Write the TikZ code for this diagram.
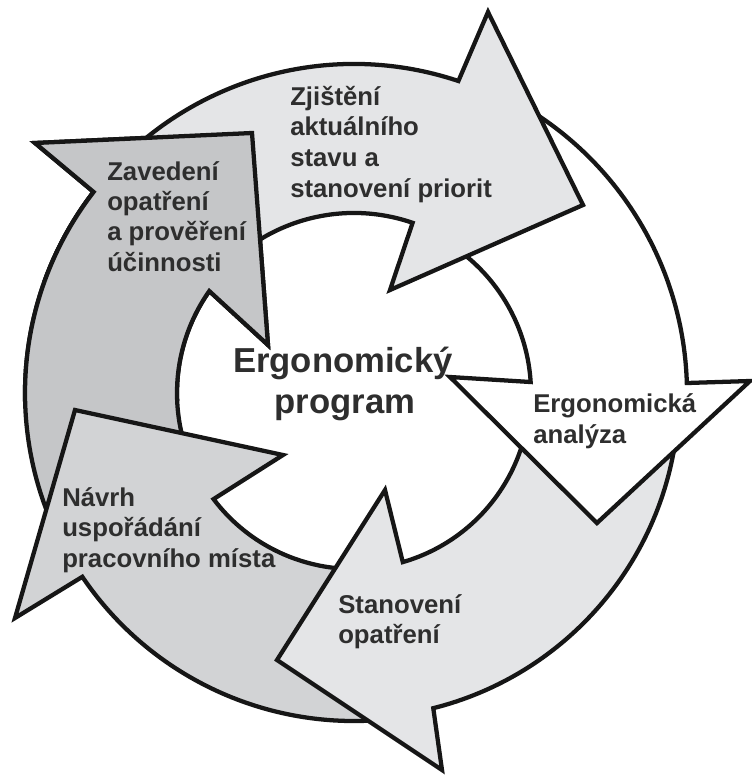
\documentclass[tikz,border=0pt]{standalone}
\usepackage{fontspec}
\setmainfont{Liberation Sans}
\definecolor{lightfill}{HTML}{E4E5E7}
\definecolor{midfill}{HTML}{D2D3D5}
\definecolor{darkfill}{HTML}{C5C6C8}
\definecolor{edge}{HTML}{161616}
\definecolor{txt}{HTML}{2E2E2E}
\tikzset{
  arrowline/.style={draw=edge, line width=3.2pt, line join=miter},
  lbl/.style={font=\bfseries\fontsize{19.3}{23}\selectfont, text=txt, inner sep=0pt, anchor=base west},
  ctr/.style={font=\bfseries\fontsize{26}{31}\selectfont, text=txt, inner sep=0pt, anchor=base}
}
\newcommand\ArrowFivePath{([shift={(C)}]150:329) arc[start angle=150,end angle=217.67,radius=329]
  -- (35,143) -- (252,133) -- (268,345)
  -- ([shift={(C)}]215.16:177) arc[start angle=215.16,end angle=150,radius=177] -- cycle}
\begin{document}
\begin{tikzpicture}[x=0.75pt,y=-0.75pt]
\useasboundingbox (0,0) rectangle (752,776);
\coordinate (C) at (354,393);

% arrow 5: Zavedeni opatreni
\path[arrowline, fill=darkfill] \ArrowFivePath;

% arrow 4: Navrh usporadani
\path[arrowline, fill=midfill] ([shift={(C)}]80:328) arc[start angle=80,end angle=145.92,radius=328]
  -- (15,618) -- (75,410) -- (283,455)
  -- ([shift={(C)}]142.93:176) arc[start angle=142.93,end angle=80,radius=176] -- cycle;

% arrow 3: Stanoveni opatreni
\path[arrowline, fill=lightfill] ([shift={(C)}]3:325) arc[start angle=3,end angle=75.88,radius=325]
  -- (442,770) -- (277,660) -- (385,490)
  -- ([shift={(C)}]73.9:176) arc[start angle=73.9,end angle=3,radius=176] -- cycle;

% arrow 2: Ergonomicka analyza
\path[arrowline, fill=white] ([shift={(C)}]-66:333) arc[start angle=-66,end angle=-1.72,radius=333]
  -- (750,381) -- (597,523) -- (450,377)
  -- ([shift={(C)}]-3.56:177) arc[start angle=-3.56,end angle=-66,radius=177] -- cycle;

% arrow 1: Zjisteni aktualniho stavu
\path[arrowline, fill=lightfill] ([shift={(C)}]-160:329) arc[start angle=-160,end angle=-71.5,radius=329]
  -- (488,12) -- (583,205) -- (390,290)
  -- ([shift={(C)}]-71:180) arc[start angle=-71,end angle=-160,radius=180] -- cycle;

% head of arrow 5 over the tail of arrow 1
\begin{scope}
  \clip (0,0) rectangle (300,400);
  \path[arrowline, fill=darkfill] \ArrowFivePath;
\end{scope}

% labels
\node[lbl] (zj1) at (290,105) {Zjištění};
\node[lbl] (zj2) at (290,135.5) {aktuálního};
\node[lbl] (zj3) at (290,166) {stavu a};
\node[lbl] (zj4) at (290,197) {stanovení priorit};

\node[lbl] (zv1) at (107,180) {Zavedení};
\node[lbl] (zv2) at (107,210) {opatření};
\node[lbl] (zv3) at (107,240) {a prověření};
\node[lbl] (zv4) at (107,271) {účinnosti};

\node[ctr] (ep1) at (343,372) {Ergonomický};
\node[ctr] (ep2) at (345,413) {program};

\node[lbl] (ea1) at (533,412) {Ergonomická};
\node[lbl] (ea2) at (533,443) {analýza};

\node[lbl] (so1) at (338,613) {Stanovení};
\node[lbl] (so2) at (338,643) {opatření};

\node[lbl] (nv1) at (62,506) {Návrh};
\node[lbl] (nv2) at (62,536.5) {uspořádání};
\node[lbl] (nv3) at (62,567) {pracovního místa};
\end{tikzpicture}
\end{document}
